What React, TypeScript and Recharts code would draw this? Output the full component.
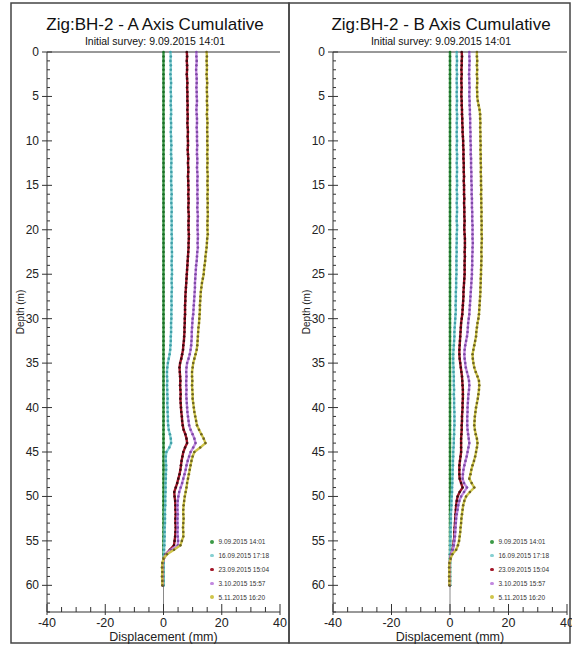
import React from "react"
import { ScatterChart, Scatter, XAxis, YAxis, ReferenceLine } from "recharts"

const FONT = "'Liberation Sans', Arial, sans-serif"

// probe stations, metres below top
const depths = [
  0, 0.5, 1, 1.5, 2, 2.5, 3, 3.5, 4, 4.5,
  5, 5.5, 6, 6.5, 7, 7.5, 8, 8.5, 9, 9.5,
  10, 10.5, 11, 11.5, 12, 12.5, 13, 13.5, 14, 14.5,
  15, 15.5, 16, 16.5, 17, 17.5, 18, 18.5, 19, 19.5,
  20, 20.5, 21, 21.5, 22, 22.5, 23, 23.5, 24, 24.5,
  25, 25.5, 26, 26.5, 27, 27.5, 28, 28.5, 29, 29.5,
  30, 30.5, 31, 31.5, 32, 32.5, 33, 33.5, 34, 34.5,
  35, 35.5, 36, 36.5, 37, 37.5, 38, 38.5, 39, 39.5,
  40, 40.5, 41, 41.5, 42, 42.5, 43, 43.5, 44, 44.5,
  45, 45.5, 46, 46.5, 47, 47.5, 48, 48.5, 49, 49.5,
  50, 50.5, 51, 51.5, 52, 52.5, 53, 53.5, 54, 54.5,
  55, 55.5, 56, 56.5, 57, 57.5, 58, 58.5, 59, 59.5,
  60,
]

const surveys = ["9.09.2015 14:01", "16.09.2015 17:18", "23.09.2015 15:04", "3.10.2015 15:57", "5.11.2015 16:20"]
const lineColors = ["#3c9a46", "#86d0d2", "#a3182a", "#c389e0", "#cfc54a"]
const dotColors = ["#1d6e2a", "#3f9fa8", "#3a0810", "#7d4aa5", "#6d6420"]

const dispTicks = [-40, -35, -30, -25, -20, -15, -10, -5, 0, 5, 10, 15, 20, 25, 30, 35, 40]
const depthTicks = [
  0, 1, 2, 3, 4, 5, 6, 7, 8, 9, 10, 11, 12, 13, 14, 15, 16, 17, 18, 19, 20, 21,
  22, 23, 24, 25, 26, 27, 28, 29, 30, 31, 32, 33, 34, 35, 36, 37, 38, 39, 40, 41,
  42, 43, 44, 45, 46, 47, 48, 49, 50, 51, 52, 53, 54, 55, 56, 57, 58, 59, 60, 61, 62, 63,
]

// initial survey is the reference, so it reads zero everywhere
const initial = [
  0, 0, 0, 0, 0, 0, 0, 0, 0, 0,
  0, 0, 0, 0, 0, 0, 0, 0, 0, 0,
  0, 0, 0, 0, 0, 0, 0, 0, 0, 0,
  0, 0, 0, 0, 0, 0, 0, 0, 0, 0,
  0, 0, 0, 0, 0, 0, 0, 0, 0, 0,
  0, 0, 0, 0, 0, 0, 0, 0, 0, 0,
  0, 0, 0, 0, 0, 0, 0, 0, 0, 0,
  0, 0, 0, 0, 0, 0, 0, 0, 0, 0,
  0, 0, 0, 0, 0, 0, 0, 0, 0, 0,
  0, 0, 0, 0, 0, 0, 0, 0, 0, 0,
  0, 0, 0, 0, 0, 0, 0, 0, 0, 0,
  0, 0, 0, 0, 0, 0, 0, 0, 0, 0,
  0,
]

// A axis cumulative displacement (mm)
const a1609 = [
  2.4, 2.5, 2.4, 2.5, 2.5, 2.4, 2.5, 2.6, 2.5, 2.5,
  2.6, 2.5, 2.5, 2.6, 2.6, 2.5, 2.6, 2.6, 2.5, 2.6,
  2.6, 2.7, 2.6, 2.6, 2.7, 2.7, 2.6, 2.7, 2.7, 2.6,
  2.7, 2.7, 2.8, 2.7, 2.7, 2.8, 2.8, 2.7, 2.8, 2.8,
  2.8, 2.8, 2.9, 2.8, 2.8, 2.9, 2.9, 2.8, 2.8, 2.9,
  2.9, 2.8, 2.8, 2.9, 2.8, 2.8, 2.7, 2.8, 2.7, 2.7,
  2.7, 2.6, 2.6, 2.6, 2.5, 2.5, 2.4, 2.3, 2.1, 1.8,
  1.5, 1.3, 1.2, 1.2, 1.3, 1.2, 1.3, 1.3, 1.4, 1.3,
  1.4, 1.4, 1.5, 1.5, 1.6, 1.8, 2.2, 2.5, 2.6, 2.0,
  1.0, 0.8, 0.8, 0.9, 0.9, 0.8, 0.8, 0.7, 0.7, 0.7,
  0.6, 0.6, 0.6, 0.5, 0.5, 0.5, 0.5, 0.4, 0.4, 0.4,
  0.3, 0.3, 0.2, 0.2, 0.1, 0.1, 0.0, 0.0, 0.0, 0.0,
  0.0,
]
const a2309 = [
  8.0, 8.1, 8.0, 8.1, 8.1, 8.0, 8.1, 8.2, 8.1, 8.2,
  8.2, 8.2, 8.3, 8.2, 8.3, 8.3, 8.2, 8.3, 8.4, 8.3,
  8.4, 8.4, 8.3, 8.4, 8.5, 8.4, 8.5, 8.5, 8.4, 8.5,
  8.5, 8.6, 8.5, 8.6, 8.6, 8.5, 8.6, 8.7, 8.6, 8.6,
  8.6, 8.7, 8.7, 8.6, 8.6, 8.5, 8.4, 8.3, 8.2, 8.1,
  8.0, 7.9, 7.8, 7.7, 7.6, 7.5, 7.5, 7.4, 7.4, 7.4,
  7.3, 7.3, 7.2, 7.2, 7.1, 7.0, 6.8, 6.7, 6.4, 6.1,
  5.7, 5.5, 5.6, 5.7, 5.8, 5.7, 5.8, 5.9, 5.8, 5.9,
  6.0, 6.1, 6.3, 6.4, 6.6, 6.9, 7.5, 7.9, 8.1, 7.4,
  6.8, 6.5, 6.2, 6.0, 5.8, 5.5, 5.1, 4.7, 4.2, 3.7,
  3.8, 4.0, 4.1, 4.1, 4.2, 4.1, 4.1, 4.2, 4.1, 4.0,
  3.8, 3.6, 2.2, 0.8, 0.1, -0.3, -0.4, -0.3, -0.4, -0.3,
  -0.3,
]
const a0310 = [
  11.3, 11.3, 11.4, 11.3, 11.2, 11.3, 11.4, 11.4, 11.3, 11.4,
  11.4, 11.5, 11.4, 11.3, 11.4, 11.5, 11.5, 11.4, 11.5, 11.5,
  11.5, 11.6, 11.5, 11.5, 11.6, 11.6, 11.5, 11.6, 11.7, 11.6,
  11.6, 11.7, 11.6, 11.7, 11.7, 11.6, 11.7, 11.8, 11.7, 11.7,
  11.7, 11.8, 11.8, 11.7, 11.8, 11.6, 11.5, 11.4, 11.2, 11.1,
  11.0, 10.9, 10.8, 10.8, 10.7, 10.6, 10.5, 10.4, 10.3, 10.2,
  10.0, 9.9, 9.8, 9.7, 9.7, 9.6, 9.5, 9.3, 9.0, 8.6,
  8.1, 7.9, 7.8, 7.9, 7.8, 7.8, 7.9, 7.8, 7.9, 8.0,
  8.1, 8.2, 8.4, 8.6, 8.8, 9.3, 10.0, 10.6, 11.0, 10.2,
  9.3, 8.8, 8.3, 7.9, 7.6, 7.2, 6.8, 6.4, 5.9, 5.4,
  5.1, 4.9, 4.8, 4.8, 4.9, 4.8, 4.8, 4.9, 4.8, 4.9,
  5.0, 4.9, 2.6, 0.9, 0.1, -0.3, -0.4, -0.3, -0.4, -0.3,
  -0.3,
]
const a0511 = [
  14.8, 14.9, 14.8, 14.9, 14.9, 14.8, 14.9, 15.0, 14.9, 14.9,
  15.0, 14.9, 15.0, 15.0, 14.9, 15.0, 15.1, 15.0, 15.0, 15.1,
  15.0, 15.1, 15.1, 15.0, 15.1, 15.1, 15.0, 15.1, 15.2, 15.1,
  15.1, 15.2, 15.1, 15.1, 15.2, 15.1, 15.2, 15.2, 15.1, 15.1,
  15.1, 15.2, 15.0, 14.9, 14.8, 14.6, 14.4, 14.3, 14.1, 13.9,
  13.8, 13.5, 13.2, 13.0, 12.8, 12.7, 12.6, 12.5, 12.5, 12.4,
  12.3, 12.2, 12.0, 11.9, 11.8, 11.7, 11.6, 11.4, 11.0, 10.6,
  10.2, 10.0, 9.8, 9.8, 9.9, 9.8, 9.9, 10.0, 10.0, 10.2,
  10.4, 10.6, 10.9, 11.2, 11.5, 12.2, 13.0, 13.8, 14.4, 12.6,
  10.6, 10.0, 9.6, 9.3, 9.0, 8.7, 8.4, 8.1, 7.9, 7.6,
  7.3, 7.1, 6.9, 6.8, 6.8, 6.9, 6.8, 6.7, 6.8, 6.8,
  6.3, 5.8, 3.6, 1.2, 0.0, -0.4, -0.5, -0.4, -0.5, -0.4,
  -0.4,
]

// B axis cumulative displacement (mm)
const b1609 = [
  2.3, 2.3, 2.4, 2.3, 2.3, 2.4, 2.3, 2.3, 2.4, 2.3,
  2.3, 2.4, 2.3, 2.3, 2.4, 2.4, 2.3, 2.4, 2.3, 2.3,
  2.4, 2.3, 2.3, 2.4, 2.4, 2.3, 2.4, 2.4, 2.3, 2.4,
  2.4, 2.3, 2.4, 2.4, 2.3, 2.4, 2.4, 2.3, 2.3, 2.4,
  2.4, 2.3, 2.3, 2.3, 2.2, 2.3, 2.2, 2.2, 2.2, 2.2,
  2.2, 2.1, 2.1, 2.1, 2.0, 2.0, 2.0, 1.9, 2.0, 1.9,
  1.8, 1.7, 1.6, 1.5, 1.5, 1.4, 1.3, 1.2, 1.1, 1.1,
  1.1, 1.2, 1.2, 1.3, 1.3, 1.3, 1.4, 1.3, 1.4, 1.4,
  1.4, 1.5, 1.5, 1.5, 1.5, 1.4, 1.4, 1.3, 1.3, 1.2,
  1.1, 1.1, 1.0, 1.0, 0.9, 0.9, 0.8, 0.8, 0.7, 0.7,
  0.6, 0.5, 0.5, 0.4, 0.3, 0.3, 0.3, 0.2, 0.2, 0.2,
  0.1, 0.1, 0.1, 0.0, 0.0, 0.0, 0.0, 0.0, 0.0, 0.0,
  0.0,
]
const b2309 = [
  4.0, 4.1, 4.0, 4.0, 3.9, 4.0, 3.9, 3.9, 4.0, 3.9,
  3.9, 4.0, 4.0, 4.1, 4.1, 4.2, 4.2, 4.3, 4.3, 4.4,
  4.5, 4.5, 4.6, 4.6, 4.6, 4.7, 4.7, 4.7, 4.8, 4.7,
  4.8, 4.8, 4.8, 4.9, 4.8, 4.9, 4.9, 4.9, 5.0, 4.9,
  4.9, 5.0, 5.1, 5.1, 5.1, 5.0, 5.1, 5.0, 5.0, 5.0,
  5.0, 4.9, 4.8, 4.7, 4.6, 4.6, 4.5, 4.4, 4.3, 4.2,
  4.0, 3.8, 3.7, 3.6, 3.5, 3.4, 3.3, 3.2, 3.2, 3.3,
  3.5, 3.7, 3.9, 4.1, 4.2, 4.3, 4.4, 4.4, 4.4, 4.3,
  4.3, 4.2, 4.1, 4.1, 4.0, 4.0, 3.9, 3.8, 3.8, 3.8,
  3.8, 3.6, 3.4, 3.2, 3.2, 3.2, 3.3, 3.8, 4.3, 3.3,
  2.6, 2.3, 2.1, 2.0, 1.9, 1.8, 1.7, 1.6, 1.5, 1.5,
  1.3, 1.1, 0.9, 0.4, 0.1, -0.1, -0.2, -0.1, -0.2, -0.1,
  -0.1,
]
const b0310 = [
  6.6, 6.6, 6.7, 6.6, 6.6, 6.5, 6.6, 6.6, 6.7, 6.6,
  6.6, 6.7, 6.7, 6.8, 6.8, 6.9, 6.9, 6.9, 7.0, 7.0,
  7.0, 7.1, 7.1, 7.1, 7.2, 7.2, 7.2, 7.3, 7.3, 7.3,
  7.4, 7.4, 7.4, 7.5, 7.5, 7.5, 7.6, 7.6, 7.6, 7.7,
  7.7, 7.7, 7.7, 7.8, 7.7, 7.7, 7.6, 7.6, 7.6, 7.5,
  7.5, 7.4, 7.3, 7.2, 7.1, 7.0, 6.9, 6.8, 6.7, 6.6,
  6.4, 6.2, 6.1, 6.0, 5.8, 5.5, 5.2, 5.0, 4.9, 5.0,
  5.2, 5.4, 5.8, 6.2, 6.5, 6.6, 6.5, 6.3, 6.2, 6.1,
  6.0, 6.0, 5.9, 5.9, 5.9, 6.0, 6.2, 6.4, 6.6, 6.3,
  6.0, 5.7, 5.3, 4.9, 4.6, 4.4, 4.3, 4.8, 5.8, 4.8,
  3.8, 3.2, 2.8, 2.6, 2.3, 2.1, 2.0, 1.9, 1.8, 1.7,
  1.5, 1.3, 1.0, 0.4, 0.1, -0.1, -0.2, -0.1, -0.2, -0.1,
  -0.1,
]
const b0511 = [
  9.2, 9.2, 9.3, 9.2, 9.3, 9.2, 9.3, 9.3, 9.2, 9.3,
  9.3, 9.5, 9.8, 10.1, 10.3, 10.3, 10.4, 10.3, 10.4, 10.4,
  10.4, 10.5, 10.4, 10.5, 10.5, 10.5, 10.6, 10.5, 10.6, 10.6,
  10.6, 10.7, 10.6, 10.7, 10.7, 10.7, 10.8, 10.7, 10.8, 10.8,
  10.8, 10.8, 10.9, 10.8, 10.8, 10.7, 10.8, 10.7, 10.7, 10.6,
  10.6, 10.5, 10.5, 10.4, 10.4, 10.3, 10.2, 10.1, 10.0, 9.9,
  9.7, 9.4, 9.2, 9.0, 8.9, 8.6, 8.3, 8.0, 7.7, 7.8,
  8.0, 8.3, 8.8, 9.4, 9.9, 10.0, 9.9, 9.7, 9.5, 9.2,
  8.9, 8.7, 8.5, 8.4, 8.3, 8.5, 8.8, 9.2, 9.4, 9.2,
  8.9, 8.6, 8.2, 7.7, 7.3, 7.0, 6.6, 7.4, 8.3, 6.8,
  5.5, 4.9, 4.5, 4.3, 4.1, 3.9, 3.8, 3.6, 3.5, 3.3,
  3.1, 2.7, 2.1, 0.8, 0.2, -0.2, -0.3, -0.2, -0.3, -0.2,
  -0.2,
]

const toPoints = (vals: number[]) => vals.map((v, i) => ({ x: v, y: depths[i] }))

function DispTick({ x, y, payload }: any) {
  const major = payload.value % 20 === 0
  return (
    <g>
      <line x1={x} x2={x} y1={y - (major ? 8 : 5)} y2={y + (major ? 3 : 0)} stroke="#333" />
      {major && (
        <text x={x} y={y + 15} textAnchor="middle" fontSize={12.5} fill="#222" fontFamily={FONT}>
          {payload.value}
        </text>
      )}
    </g>
  )
}

function DepthTick({ x, y, payload }: any) {
  const major = payload.value % 5 === 0
  return (
    <g>
      <line x1={major ? x - 5 : x} x2={x + (major ? 5 : 3)} y1={y} y2={y} stroke="#333" />
      {major && (
        <text x={x - 8} y={y + 4} textAnchor="end" fontSize={12} fill="#222" fontFamily={FONT}>
          {payload.value}
        </text>
      )}
    </g>
  )
}

function SurveyLegend({ left }: { left: number }) {
  return (
    <div style={{ position: "absolute", left, top: 535, fontFamily: FONT, fontSize: 6.5, color: "#333" }}>
      {surveys.map((s, i) => (
        <div key={s} style={{ height: 13.8, display: "flex", alignItems: "center", whiteSpace: "nowrap" }}>
          <span
            style={{ width: 3.5, height: 3.5, borderRadius: 2, background: lineColors[i], marginRight: 5 }}
          />
          {s}
        </div>
      ))}
    </div>
  )
}

function Panel({ left, width, right, series }: { left: number; width: number; right: number; series: number[][] }) {
  return (
    <div style={{ position: "absolute", left, top: 3 }}>
      <ScatterChart width={width} height={646} margin={{ top: 49, right, bottom: 7, left: 7 }}>
        <XAxis
          type="number"
          dataKey="x"
          domain={[-40, 40]}
          ticks={dispTicks}
          interval={0}
          allowDataOverflow
          tickSize={0}
          tickMargin={0}
          tick={(p: any) => <DispTick {...p} />}
          axisLine={{ stroke: "#333" }}
          height={30}
          label={{ value: "Displacement  (mm)", position: "insideBottom", offset: 1, fontSize: 12.5, fill: "#222", fontFamily: FONT }}
        />
        <YAxis
          type="number"
          dataKey="y"
          domain={[0, 63]}
          reversed
          ticks={depthTicks}
          interval={0}
          tickSize={0}
          tickMargin={0}
          tick={(p: any) => <DepthTick {...p} />}
          axisLine={{ stroke: "#333" }}
          width={30}
          label={{
            value: "Depth  (m)",
            angle: -90,
            position: "insideLeft",
            offset: 3,
            dy: -20,
            fontSize: 10,
            fill: "#222",
            fontFamily: FONT,
            style: { textAnchor: "middle" },
          }}
        />
        <ReferenceLine y={0} stroke="#333" />
        <ReferenceLine x={0} stroke="#8a8a8a" />
        {series.map((vals, i) => (
          <Scatter
            key={surveys[i]}
            name={surveys[i]}
            data={toPoints(vals)}
            line={{ stroke: lineColors[i], strokeWidth: 2.4 }}
            shape={(p: any) => <circle cx={p.cx} cy={p.cy} r={1.3} fill={dotColors[i]} />}
            isAnimationActive={false}
          />
        ))}
      </ScatterChart>
    </div>
  )
}

export default function App() {
  return (
    <div style={{ position: "absolute", left: 0, top: 0, width: 572, height: 646, background: "#fff", overflow: "hidden" }}>
      <svg width={572} height={646} style={{ position: "absolute", left: 0, top: 0 }}>
        <rect x={11} y={3} width={278} height={640} fill="none" stroke="#444" strokeWidth={1.5} />
        <rect x={289} y={3} width={281} height={640} fill="none" stroke="#444" strokeWidth={1.5} />
        <g fontFamily={FONT} fill="#111" textAnchor="middle">
          <text x={155} y={30} fontSize={17}>Zig:BH-2 - A Axis Cumulative</text>
          <text x={155} y={45} fontSize={10.5}>Initial survey:  9.09.2015 14:01</text>
          <text x={441} y={30} fontSize={17}>Zig:BH-2 - B Axis Cumulative</text>
          <text x={441} y={45} fontSize={10.5}>Initial survey:  9.09.2015 14:01</text>
        </g>
      </svg>
      <Panel left={10} width={285} right={15} series={[initial, a1609, a2309, a0310, a0511]} />
      <Panel left={296} width={276} right={5} series={[initial, b1609, b2309, b0310, b0511]} />
      <SurveyLegend left={210} />
      <SurveyLegend left={490} />
    </div>
  )
}
